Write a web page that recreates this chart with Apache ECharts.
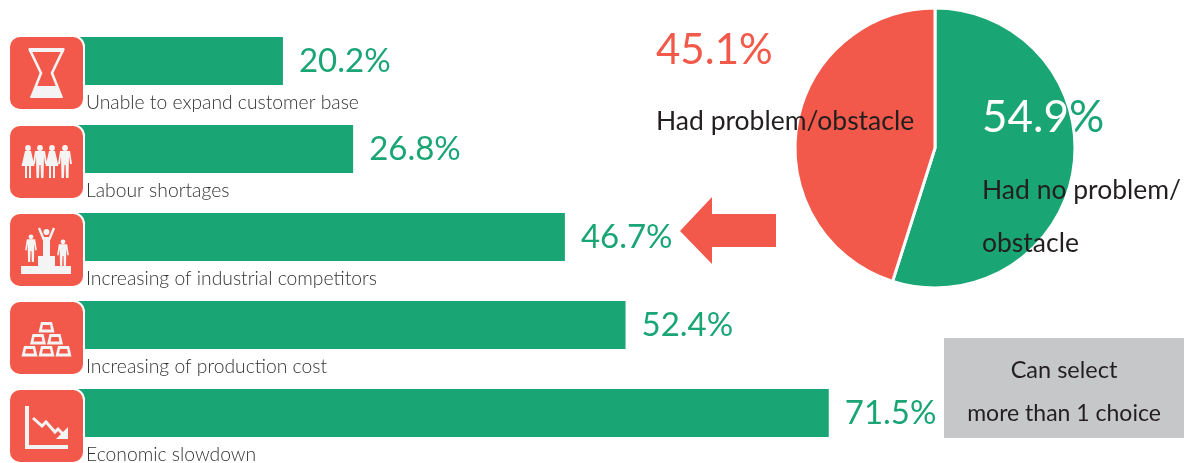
<!DOCTYPE html>
<html><head><meta charset="utf-8">
<style>html,body{margin:0;padding:0;background:#fff}#c{width:1187px;height:463px}</style>
<script src="https://cdn.jsdelivr.net/npm/echarts@6/dist/echarts.min.js"></script>
</head><body><div id="c"></div>
<script>
const categories = ['Unable to expand customer base','Labour shortages','Increasing of industrial competitors','Increasing of production cost','Economic slowdown'];
const barValues = [20.2,26.8,46.7,52.4,71.5];
const pieNames = ['Had no problem/obstacle','Had problem/obstacle'];
const pieValues = [54.9,45.1];
const noteLines = ['Can select','more than 1 choice'];

const GREEN='#1AA574', RED='#F2594A', INK='#231F20', PALE='#F4F4F4', BOX='#C6C7C9';
const FONT='Lato, "Noto Sans", sans-serif';
const pct=v=>v.toFixed(1)+'%';
const circ=(x,y,r)=>`M${x-r} ${y}a${r} ${r} 0 1 0 ${2*r} 0a${r} ${r} 0 1 0 ${-2*r} 0Z`;
const tileTops=[36,125,213,301,389];
const PIE={cx:935,cy:148,r:139.5};
const Z=20;
let shapeCount=0;
function pathType(d){const n='iconpath'+(shapeCount++);echarts.graphic.registerShape(n,echarts.graphic.extendPath(d));return n;}
const fillP=(d,f=PALE)=>({type:pathType(d),z:Z+1,style:{fill:f}});
const strokeP=(d,w,f=PALE)=>({type:pathType(d),z:Z+1,style:{fill:'none',stroke:f,lineWidth:w}});

function person(x,y,s=1,dress=false){
  const b=(a,c)=>`${x+a*s} ${y+c*s}`;
  const body = dress
   ? `M${b(-3,4)}L${b(3,4)}L${b(6.5,19)}L${b(3,19)}L${b(3,31)}L${b(1,31)}L${b(1,19)}L${b(-1,19)}L${b(-1,31)}L${b(-3,31)}L${b(-3,19)}L${b(-6.5,19)}Z`
   : `M${b(-5,4)}L${b(5,4)}L${b(7,17)}L${b(5,17)}L${b(4,9)}L${b(3.5,31)}L${b(1,31)}L${b(0.6,18)}L${b(-0.6,18)}L${b(-1,31)}L${b(-3.5,31)}L${b(-4,9)}L${b(-5,17)}L${b(-7,17)}Z`;
  return circ(x,y+s,2.9*s)+body;
}
const goldRows=[[37.5,21],[29,33],[46,33],[20.5,45],[37.5,45],[54.5,45]];
const icons=[
 [ strokeP('M21 14H54L43 37L52 60H23L32 37Z',2.6), fillP('M27 50H48L54 62H21Z'), strokeP('M20 14H55',4) ],
 [ fillP(person(19,22,1,true)+person(31,22)+person(43,22,1,true)+person(56,22)) ],
 [ fillP('M12 53H29V43H46V53H62V61H12Z'),
   fillP(person(22,23,.84)+person(54,28,.84)),
   fillP(circ(37.5,19,3)+'M34 24H41V43H34Z'),
   strokeP('M35 27L30 15M40 27L45 15',2.4) ],
 goldRows.flatMap(([x,y])=>[
     fillP(`M${x-5.5} ${y}H${x+5.5}L${x+8} ${y+10.5}H${x-8}Z`),
     fillP(`M${x-3.5} ${y+3}H${x+3.5}L${x+4.5} ${y+7.5}H${x-4.5}Z`,RED)]),
 [ strokeP('M18 17V58H59',4), strokeP('M24 29L33 37L37 33L46 43L49 40L55 46',3), fillP('M59 38V50H47Z') ]
];
const tiles=tileTops.map((t,i)=>({type:'group',x:9,y:t,z:Z,children:[
  {type:'rect',z:Z,shape:{x:0,y:0,width:75,height:74,r:11},style:{fill:RED,stroke:'#fff',lineWidth:2}},
  ...icons[i]
]}));

const txt=(x,y,text,size,fill,extra={})=>({type:'text',x,y,z:extra.z||Z,style:{text,font:`${extra.weight||400} ${size}px ${FONT}`,fill,verticalAlign:'middle',align:extra.align||'left'}});

const graphics=[
  ...tiles,
  {type:'polygon',z:Z,shape:{points:[[680,231],[712,197],[712,214],[776,214],[776,247],[712,247],[712,264]]},style:{fill:RED}},
  {type:'rect',z:Z,shape:{x:944,y:338,width:240,height:100},style:{fill:BOX}},
  txt(1064,370,noteLines[0],23.5,INK,{align:'center'}),
  txt(1064,414,noteLines[1],23,INK,{align:'center'}),
  txt(656,50,pct(pieValues[1]),42,RED),
  txt(656,121,pieNames[1],26.5,INK),
  txt(982,118,pct(pieValues[0]),44,GREEN,{z:1}),
  txt(982,190,'Had no problem/',26.5,INK),
  txt(982,243,'obstacle',26.5,INK)
];

const chart=echarts.init(document.getElementById('c'),null,{renderer:'canvas'});
chart.setOption({
  animation:false,
  backgroundColor:'#fff',
  grid:{left:68,top:17,width:1064,height:440,containLabel:false},
  xAxis:{type:'value',min:0,max:100,show:false},
  yAxis:{type:'category',inverse:true,data:categories,axisLine:{show:false},axisTick:{show:false},axisLabel:{show:false}},
  series:[
   {type:'bar',data:barValues,barWidth:48,barGap:'-100%',itemStyle:{color:GREEN},silent:true,
    label:{show:true,position:'right',distance:16,color:GREEN,fontFamily:FONT,fontSize:33,formatter:p=>pct(p.value)}},
   {type:'bar',data:barValues,barWidth:48,barGap:'-100%',itemStyle:{color:'rgba(0,0,0,0)'},silent:true,
    label:{show:true,position:[18,56],verticalAlign:'top',align:'left',color:'#333333',fontFamily:FONT,fontSize:19.3,fontWeight:300,formatter:p=>p.name}},
   {type:'pie',z:2,center:[PIE.cx,PIE.cy],radius:[0,PIE.r+0.5],startAngle:90,clockwise:true,silent:true,
    label:{show:false},labelLine:{show:false},
    itemStyle:{borderColor:'#fff',borderWidth:3},
    data:pieNames.map((n,i)=>({name:n,value:pieValues[i],itemStyle:{color:i?RED:GREEN}}))},
   {type:'custom',coordinateSystem:'none',z:30,silent:true,data:[pieValues[0]],
    renderItem:(params,api)=>({type:'text',x:0,y:0,
      clipPath:{type:'circle',shape:{cx:PIE.cx,cy:PIE.cy,r:PIE.r}},
      style:{x:982,y:118,text:pct(api.value(0)),font:`400 44px ${FONT}`,fill:'#fff',verticalAlign:'middle'}})}
  ],
  graphic:{elements:graphics}
});
</script></body></html>
